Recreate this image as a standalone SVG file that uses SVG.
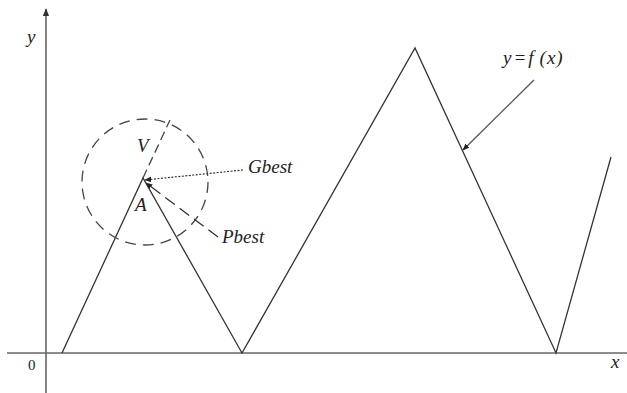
<svg xmlns="http://www.w3.org/2000/svg" width="627" height="393" viewBox="0 0 627 393">
<style>
.ax{stroke:#666;stroke-width:1.6;fill:none}
.cv{stroke:#333;stroke-width:1.3;fill:none}
.t{font-family:"Liberation Serif","Times New Roman",serif;font-style:italic;font-size:19px;fill:#222}
.n{font-family:"Liberation Serif","Times New Roman",serif;font-size:15px;fill:#222}
</style>
<defs>
<marker id="ah" viewBox="0 0 10 10" refX="9" refY="5" markerWidth="7" markerHeight="7" orient="auto" markerUnits="userSpaceOnUse">
<path d="M0,1 L10,5 L0,9 z" fill="#222"/>
</marker>
<marker id="ahy" viewBox="0 0 10 10" refX="9" refY="5" markerWidth="8" markerHeight="8" orient="auto" markerUnits="userSpaceOnUse">
<path d="M0,1 L10,5 L0,9 z" fill="#333"/>
</marker>
</defs>
<g id="axes">
<line class="ax" x1="46" y1="393" x2="46" y2="9" marker-end="url(#ahy)"/>
<line class="ax" x1="7" y1="353" x2="627" y2="353"/>
<text class="t" x="27" y="43">y</text>
<text class="t" x="611" y="368">x</text>
<text class="n" x="28" y="370">0</text>
</g>
<g id="curve">
<polyline class="cv" points="62,353 143,178 242,353 415,48 556,353 611,157"/>
</g>
<g id="circle">
<circle cx="145" cy="182" r="63" fill="none" stroke="#444" stroke-width="1.3" stroke-dasharray="11,7"/>
</g>
<g id="connectors">
<line x1="143" y1="178" x2="170" y2="120" stroke="#444" stroke-width="1.3" stroke-dasharray="9,5"/>
<line x1="243" y1="170" x2="145" y2="180" stroke="#333" stroke-width="1.2" stroke-dasharray="2,1.5" marker-end="url(#ah)"/>
<line x1="218" y1="237" x2="146" y2="183" stroke="#333" stroke-width="1.3" stroke-dasharray="12,6" marker-end="url(#ah)"/>
<line x1="534" y1="80" x2="463" y2="150" stroke="#555" stroke-width="1.3" marker-end="url(#ah)"/>
</g>
<g id="labels">
<text class="t" x="137" y="152">V</text>
<text class="t" x="135" y="211">A</text>
<text class="t" x="248" y="173">Gbest</text>
<text class="t" x="222" y="243">Pbest</text>
<text class="t" x="503" y="64">y<tspan dx="2">=</tspan><tspan dx="2">f</tspan><tspan dx="6">(</tspan><tspan dx="1">x</tspan><tspan dx="1">)</tspan></text>
</g>
</svg>
